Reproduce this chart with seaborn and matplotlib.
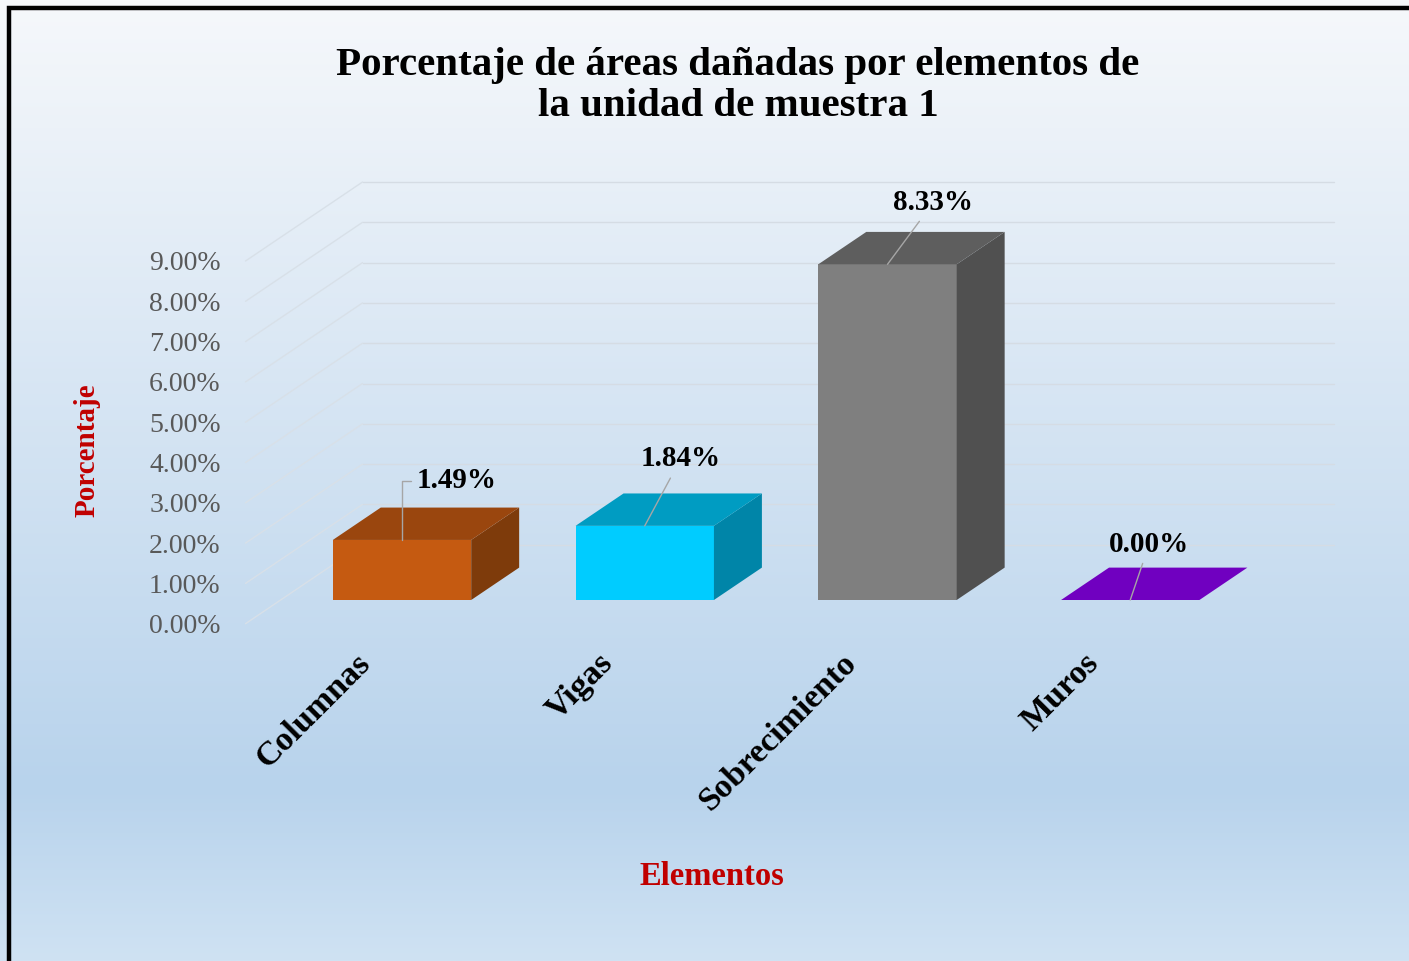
import numpy as np
import matplotlib
matplotlib.use("Agg")
import matplotlib.pyplot as plt
from matplotlib.patches import Polygon, Rectangle
import seaborn as sns

# ---------------- data ----------------
categorias = ["Columnas", "Vigas", "Sobrecimiento", "Muros"]
porcentajes = [1.49, 1.84, 8.33, 0.00]
ticks_y = [0, 1, 2, 3, 4, 5, 6, 7, 8, 9]
titulo = "Porcentaje de áreas dañadas por elementos de\nla unidad de muestra 1"
eje_x = "Elementos"
eje_y = "Porcentaje"

# ---------------- style ----------------
color_frente = ["#C55A11", "#00CCFF", "#7F7F7F", "#7000C0"]
color_tapa = ["#9A460E", "#009CC2", "#5E5E5E", "#7000C0"]
color_lado = ["#7E3B0B", "#0085A8", "#505050", "#5A009A"]
label_offsets = [(55, 59), (36, 67), (46, 62), (19, 56)]   # pixels, label centre vs bar top
label_conn = ["angle,angleA=0,angleB=90,rad=0", "arc3", "arc3", "arc3"]

sns.set_theme(style="white")
plt.rcParams['font.family'] = ['Liberation Serif', 'DejaVu Serif']

W, H = 1409, 961
fig = plt.figure(figsize=(W / 100, H / 100), dpi=100)

# background gradient
bg = fig.add_axes([0, 0, 1, 1], zorder=-10)
stops_pos = [0.0, 0.82, 1.0]
stops_col = np.array([[246, 248, 251], [184, 211, 236], [207, 226, 243]]) / 255.0
t = np.linspace(0, 1, 512)
grad = np.stack([np.interp(t, stops_pos, stops_col[:, k]) for k in range(3)], axis=-1)[:, None, :]
bg.imshow(grad, aspect='auto', extent=[0, 1, 0, 1], origin='upper')
bg.axis('off')

# main axes geometry (pixel layout)
px_cat, px_pct = 242.75, 40.3
x0_px, y0_px = 402, 600
ax_l, ax_r, ax_t, ax_b = 236, 1345, 170, 632
ax = fig.add_axes([ax_l / W, 1 - ax_b / H, (ax_r - ax_l) / W, (ax_b - ax_t) / H])
ax.patch.set_alpha(0)

# oblique depth projection
DX, DY = 117 / px_cat, 79 / px_pct
f0, f1 = 0.30, 0.71


def off(d):
    return (d - f0) * DX, (d - f0) * DY


sns.barplot(x=categorias, y=porcentajes, hue=categorias, palette=color_frente,
            width=0.57, saturation=1, legend=False, ax=ax, linewidth=0, zorder=3)

ax.set_xlim((ax_l - x0_px) / px_cat, (ax_r - x0_px) / px_cat)
ax.set_ylim(-(ax_b - y0_px) / px_pct, (y0_px - ax_t) / px_pct)

# back wall and side wall gridlines
bx, by = off(1.0)
fx, fy = off(0.0)
n = len(categorias)
for v in ticks_y:
    ax.plot([-0.5 + bx, n - 0.5 + bx], [v + by, v + by], color='#D5DCE4', lw=1, zorder=0.5)
    ax.plot([-0.5 + fx, -0.5 + bx], [v + fy, v + by], color='#D8E0E8', lw=1, zorder=0.5)

# 3D faces
ddx, ddy = (f1 - f0) * DX, (f1 - f0) * DY
bars = sorted(ax.patches, key=lambda p: p.get_x())
for i, p in enumerate(bars):
    x0 = p.get_x()
    w = p.get_width()
    h = p.get_height()
    side = Polygon([(x0 + w, 0), (x0 + w + ddx, ddy), (x0 + w + ddx, h + ddy), (x0 + w, h)],
                   closed=True, facecolor=color_lado[i], edgecolor='none', zorder=3)
    top = Polygon([(x0, h), (x0 + w, h), (x0 + w + ddx, h + ddy), (x0 + ddx, h + ddy)],
                  closed=True, facecolor=color_tapa[i], edgecolor='none', zorder=3.5)
    if h > 0:
        ax.add_patch(side)
    ax.add_patch(top)
    cx = x0 + w / 2
    ax.annotate(f"{porcentajes[i]:.2f}%", xy=(cx, h), xytext=label_offsets[i],
                textcoords='offset pixels', ha='center', va='center',
                fontsize=21, fontweight='bold', color='black', zorder=6,
                arrowprops=dict(arrowstyle='-', color='#A6A6A6', lw=1, shrinkA=2, shrinkB=0,
                                connectionstyle=label_conn[i]))

# ticks
ax.set_yticks([v + fy for v in ticks_y], labels=[f"{v:.2f}%" for v in ticks_y])
ax.tick_params(axis='y', length=0, pad=11, labelsize=20, labelcolor='#595959')
ax.set_xticks([i + fx - 0.05 for i in range(n)], labels=categorias)
for lab in ax.get_xticklabels():
    lab.set_rotation(45)
    lab.set_ha('right')
    lab.set_va('top')
    lab.set_rotation_mode('anchor')
    lab.set_fontweight('bold')
    lab.set_fontsize(24.5)
    lab.set_color('black')
ax.tick_params(axis='x', length=0, pad=11)
for s in ax.spines.values():
    s.set_visible(False)
ax.grid(False)

# axis titles
ax.set_xlabel(eje_x, fontsize=23.5, fontweight='bold', color='#C00000')
ax.xaxis.set_label_coords((712 - ax_l) / (ax_r - ax_l), -(861 - ax_b) / (ax_b - ax_t))
ax.set_ylabel(eje_y, fontsize=21, fontweight='bold', color='#C00000')
ax.yaxis.set_label_coords((101 - ax_l) / (ax_r - ax_l), (ax_b - 450) / (ax_b - ax_t))

# title
fig.text(738 / W, 1 - 86 / H, titulo, ha='center', va='center', fontsize=29.5,
         fontweight='bold', color='black', linespacing=1.15)

# frame border
fig.patches.append(Rectangle((9 / W, -0.05), 1.2, 1.05 - 8 / H, transform=fig.transFigure,
                             fill=False, edgecolor='black', linewidth=3.2, zorder=20))

fig.savefig('out.png', dpi=100)
